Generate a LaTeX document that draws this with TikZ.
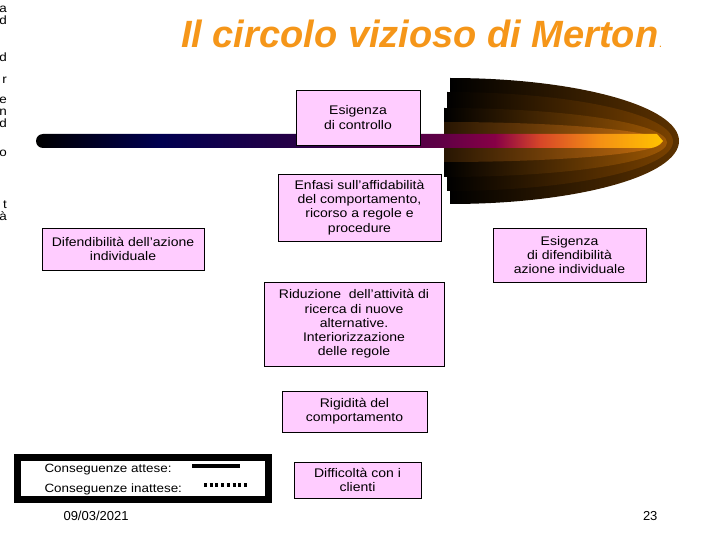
\documentclass[tikz,border=0pt]{standalone}
\usepackage{fontspec}
\setmainfont{Liberation Sans}
\newfontfamily\boxfont[FakeStretch=1.12]{Liberation Sans}
\usepackage{tikz}
\usetikzlibrary{positioning}

\definecolor{titleorange}{RGB}{245,150,25}
\definecolor{boxpink}{RGB}{255,204,255}
\definecolor{barnavy}{RGB}{0,0,80}
\definecolor{barplum}{RGB}{40,0,70}
\definecolor{barwine}{RGB}{95,0,70}
\definecolor{barmagenta}{RGB}{135,0,70}
\definecolor{barred}{RGB}{215,70,40}
\definecolor{barorange}{RGB}{245,145,20}
\definecolor{bargold}{RGB}{255,195,0}
\definecolor{shellA}{RGB}{92,50,0}
\definecolor{shellB}{RGB}{122,66,0}
\definecolor{shellC}{RGB}{158,88,4}
\definecolor{shellD}{RGB}{198,110,14}

\pgfdeclarehorizontalshading{barshading}{100bp}{%
  color(0bp)=(black); color(25bp)=(black); color(34.9bp)=(barnavy);
  color(46bp)=(barplum); color(57.2bp)=(barwine); color(61.6bp)=(barmagenta);
  color(65.2bp)=(barred); color(70bp)=(barorange); color(75bp)=(bargold);
  color(100bp)=(bargold)}

\tikzset{
  pinkbox/.style={draw=black, line width=0.8pt, fill=boxpink, align=center,
    inner sep=2pt, font=\boxfont\fontsize{12.5}{14.3}\selectfont},
  legtext/.style={anchor=west, font=\boxfont\fontsize{12}{14}\selectfont}
}

\begin{document}
\begin{tikzpicture}[x=1pt,y=-1pt]

% Slide frame
\useasboundingbox (0,0) rectangle (720,540);

% Cut-off letters at the left edge
\foreach \y/\ch [count=\i] in {13/a,25/d,62/d,84/r,104/e,116/n,128/d,157/o,209/t,221/à}
  \node[anchor=base east, inner sep=0pt, font=\boxfont\fontsize{12}{14}\selectfont]
    (frag\i) at (7,\y) {\ch};

% Title
\node[anchor=base west, inner sep=0pt, text=titleorange,
  font=\fontsize{38}{41}\selectfont\bfseries\itshape]
  (title) at (181,48) {Il circolo vizioso di Merton};
\node[anchor=base west, inner sep=0pt, text=titleorange,
  font=\fontsize{12}{14}\selectfont] (titledot) at (title.base east) {.};

% Shell, outer layer first
\shade[left color=black, right color=shellA]
  (450,78) arc[start angle=90, end angle=-90, x radius=229pt, y radius=63pt] -- cycle;
\shade[left color=black, right color=shellB]
  (447,92) arc[start angle=90, end angle=-90, x radius=226pt, y radius=49.5pt] -- cycle;
\shade[left color=black, right color=shellC]
  (444,108) arc[start angle=90, end angle=-90, x radius=223pt, y radius=34.5pt] -- cycle;
\shade[left color=black!80!shellD, right color=shellD]
  (444,122) arc[start angle=90, end angle=-90, x radius=218pt, y radius=20pt] -- cycle;

% Bar through the shell
\shade[shading=barshading, rounded corners=7pt]
  (657,134) -- (36,134) -- (36,148) -- (657,148) [sharp corners] -- (663,141) -- cycle;

% Boxes
\node[pinkbox, minimum width=124, minimum height=55] (controllo) at (358,117.5)
  {Esigenza\\di controllo};
\node[pinkbox, minimum width=163, minimum height=67] (enfasi) at (359.5,207.5)
  {Enfasi sull’affidabilità\\del comportamento,\\ricorso a regole e\\procedure};
\node[pinkbox, minimum width=162, minimum height=42] (difesa) at (123,249)
  {Difendibilità dell’azione\\individuale};
\node[pinkbox, minimum width=153, minimum height=54] (esigdif) at (569.5,255)
  {Esigenza\\di difendibilità\\azione individuale};
\node[pinkbox, minimum width=180, minimum height=84] (riduzione) at (354,324)
  {Riduzione\ \ dell’attività di\\ricerca di nuove\\alternative.\\Interiorizzazione\\delle regole};
\node[pinkbox, minimum width=145, minimum height=41] (rigidita) at (354.5,411.5)
  {Rigidità del\\comportamento};
\node[pinkbox, minimum width=127, minimum height=36] (clienti) at (357.5,480)
  {Difficoltà con i\\clienti};

% Legend
\node[draw=black, line width=7pt, minimum width=251, minimum height=42,
  inner sep=0pt] (legend) at (143,478.5) {};
\node[legtext] (attese) at (41,470) {Conseguenze attese:};
\node[legtext] (inattese) at (41,489) {Conseguenze inattese:};
\coordinate (solidA) at (192,466);
\coordinate (solidB) at (240,466);
\coordinate (dotA) at (204,485);
\coordinate (dotB) at (247,485);
\draw[line width=4pt] (solidA) -- (solidB);
\draw[line width=4pt, dash pattern=on 3pt off 2.7pt] (dotA) -- (dotB);

% Footer
\node[anchor=west, font=\fontsize{13}{15}\selectfont] (date) at (60,516) {09/03/2021};
\node[anchor=east, font=\fontsize{13}{15}\selectfont] (pagenum) at (661,516) {23};

\end{tikzpicture}
\end{document}
